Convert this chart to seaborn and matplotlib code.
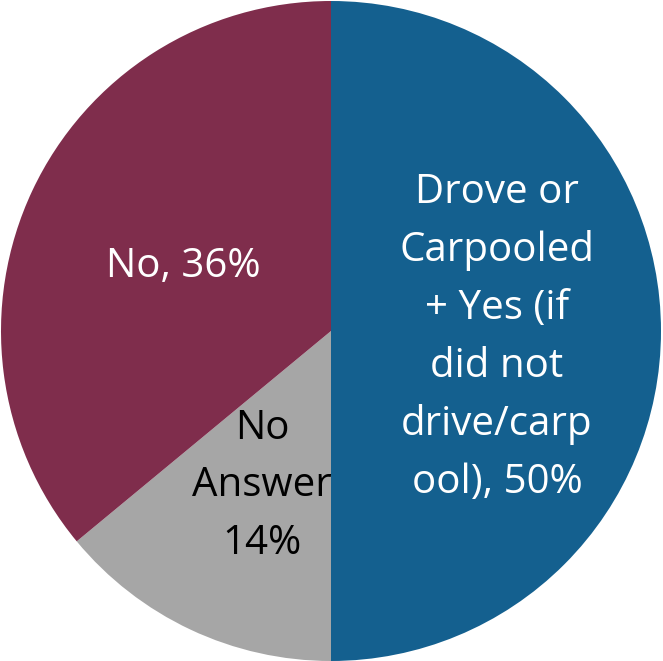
import matplotlib
matplotlib.use("Agg")
import matplotlib.pyplot as plt
import seaborn as sns

# data
labels = ["Drove or\nCarpooled\n+ Yes (if\ndid not\ndrive/carp\nool), 50%", "No\nAnswer\n14%", "No, 36%"]
values = [50, 14, 36]
colors = ["#14608F", "#A6A6A6", "#7F2D4C"]
text_colors = ["white", "black", "white"]

sns.set_style("white")
plt.rcParams['font.family'] = ['Open Sans', 'DejaVu Sans']

fig = plt.figure(figsize=(6.63, 6.61), dpi=100)
ax = fig.add_axes([0, 0, 1, 1])
wedges, _ = ax.pie(values, colors=colors, startangle=90, counterclock=False,
                   radius=1, wedgeprops=dict(linewidth=0))

# label spots (pie coords)
spots = [(0.503, -0.02), (-0.209, -0.47), (-0.448, 0.194)]
for lab, (x, y), c in zip(labels, spots, text_colors):
    ax.text(x, y, lab, ha='center', va='center', color=c, fontsize=29, linespacing=1.56)

ax.set_xlim(-331/330, 332/330)
ax.set_ylim(-330/330, 331/330)
ax.set_aspect('equal')
ax.axis('off')
fig.savefig("out.png", dpi=100)
